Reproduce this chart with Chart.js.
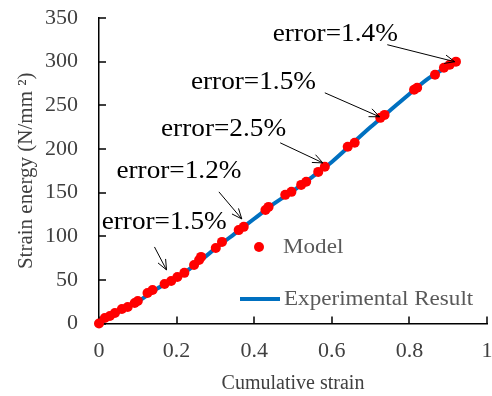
<!DOCTYPE html>
<html>
<head>
<meta charset="utf-8">
<script src="https://cdn.jsdelivr.net/npm/chart.js@4/dist/chart.umd.min.js"></script>
<style>
  html, body { margin: 0; padding: 0; background: #fff; }
</style>
</head>
<body>
<canvas id="chart" width="492" height="396"></canvas>
<script>
// model predictions (cumulative strain, strain energy)
const modelX = [0, 0.015, 0.028, 0.041, 0.059, 0.074, 0.092, 0.1, 0.125, 0.138, 0.169, 0.186,
  0.202, 0.22, 0.245, 0.258, 0.263, 0.301, 0.317, 0.36, 0.373, 0.429, 0.437, 0.48, 0.496,
  0.521, 0.534, 0.565, 0.582, 0.641, 0.659, 0.725, 0.736, 0.812, 0.82, 0.866, 0.889, 0.904, 0.92];
const modelY = [0, 6.3, 8.6, 12, 16.6, 19, 23.5, 25.8, 35, 38.4, 45.3, 48.7,
  53.3, 58, 67, 72.8, 76.3, 86.6, 93.5, 107, 110.7, 130, 133.6, 147.4, 150.8,
  158.8, 162.3, 173.7, 179.5, 202.4, 207, 235.6, 239, 267.8, 270, 285, 293, 296.4, 300];

// experimental curve
const expX = [0, 0.05, 0.1, 0.15, 0.2, 0.25, 0.3, 0.35, 0.4, 0.45, 0.5, 0.55, 0.6, 0.65, 0.7, 0.75, 0.8, 0.85, 0.92];
const expY = [0, 13, 25, 40, 52, 68, 86, 103, 120, 137, 152, 168, 185, 205, 225, 244, 263, 281, 300];

// error callouts: label, label centre, arrow start, arrow tip (data units)
const errLabels = ['error=1.5%', 'error=1.2%', 'error=2.5%', 'error=1.5%', 'error=1.4%'];
const errTextX = [0.168, 0.206, 0.321, 0.398, 0.609];
const errTextY = [116, 173.7, 222, 275.8, 330.8];
const arrowFromX = [0.143, 0.309, 0.467, 0.582, 0.743];
const arrowFromY = [87.7, 150.8, 207, 264.3, 319.4];
const arrowToX = [0.174, 0.368, 0.577, 0.723, 0.917];
const arrowToY = [61.4, 119.8, 184, 236.8, 299.9];

const strainTicks = [0, 0.2, 0.4, 0.6, 0.8, 1];
const energyTicks = [0, 50, 100, 150, 200, 250, 300, 350];

const serif = '"Liberation Serif", "Times New Roman", serif';

const zip = (xs, ys) => xs.map((x, i) => ({ x: x, y: ys[i] }));

// text slightly widened, like the exported figure
function wideText(ctx, text, x, y, sx) {
  ctx.save();
  ctx.translate(x, y);
  ctx.scale(sx, 1);
  ctx.fillText(text, 0, 0);
  ctx.restore();
}

// short tick marks pointing into the plot
const innerTicks = {
  id: 'innerTicks',
  beforeDatasetsDraw(chart) {
    const { ctx, scales: { x, y }, chartArea: a } = chart;
    ctx.save();
    ctx.strokeStyle = '#000';
    ctx.lineWidth = 1.5;
    ctx.beginPath();
    strainTicks.forEach(v => {
      const px = Math.round(x.getPixelForValue(v));
      ctx.moveTo(px, a.bottom);
      ctx.lineTo(px, a.bottom - 7);
    });
    energyTicks.forEach(v => {
      const py = Math.round(y.getPixelForValue(v));
      ctx.moveTo(a.left, py);
      ctx.lineTo(a.left + 7, py);
    });
    ctx.stroke();
    ctx.restore();
  }
};

const callouts = {
  id: 'callouts',
  afterDatasetsDraw(chart) {
    const { ctx, scales: { x, y } } = chart;
    ctx.save();
    ctx.font = '25px ' + serif;
    ctx.fillStyle = '#000';
    ctx.textAlign = 'center';
    ctx.textBaseline = 'middle';
    errLabels.forEach((t, i) => {
      wideText(ctx, t, x.getPixelForValue(errTextX[i]), y.getPixelForValue(errTextY[i]), 1.09);
      const x0 = x.getPixelForValue(arrowFromX[i]), y0 = y.getPixelForValue(arrowFromY[i]);
      const x1 = x.getPixelForValue(arrowToX[i]), y1 = y.getPixelForValue(arrowToY[i]);
      const ang = Math.atan2(y1 - y0, x1 - x0);
      ctx.strokeStyle = '#000';
      ctx.lineWidth = 1;
      ctx.beginPath();
      ctx.moveTo(x0, y0);
      ctx.lineTo(x1, y1);
      [0.4, -0.4].forEach(d => {
        ctx.moveTo(x1, y1);
        ctx.lineTo(x1 - 11 * Math.cos(ang + d), y1 - 11 * Math.sin(ang + d));
      });
      ctx.stroke();
    });
    ctx.restore();
  }
};

// legend drawn inside the plot area
const innerLegend = {
  id: 'innerLegend',
  afterDraw(chart) {
    const { ctx, chartArea: a } = chart;
    const ds = chart.data.datasets;
    ctx.save();
    ctx.font = '22px ' + serif;
    ctx.textBaseline = 'middle';
    ctx.textAlign = 'left';
    // Model
    ctx.beginPath();
    ctx.arc(a.left + 160, a.top + 229, 5, 0, Math.PI * 2);
    ctx.fillStyle = ds[0].backgroundColor;
    ctx.fill();
    ctx.fillStyle = '#595959';
    wideText(ctx, ds[0].label, a.left + 184, a.top + 229, 1.05);
    // Experimental Result
    ctx.strokeStyle = ds[1].borderColor;
    ctx.lineWidth = 4;
    ctx.beginPath();
    ctx.moveTo(a.left + 141, a.top + 281);
    ctx.lineTo(a.left + 181, a.top + 281);
    ctx.stroke();
    wideText(ctx, ds[1].label, a.left + 185, a.top + 281, 1.05);
    ctx.restore();
  }
};

new Chart(document.getElementById('chart'), {
  type: 'scatter',
  data: {
    datasets: [{
      label: 'Model',
      data: zip(modelX, modelY),
      backgroundColor: '#FF0000',
      borderColor: '#FF0000',
      pointRadius: 5,
      borderWidth: 0,
      clip: false
    }, {
      type: 'line',
      label: 'Experimental Result',
      data: zip(expX, expY),
      borderColor: '#0070C0',
      borderWidth: 4,
      pointRadius: 0,
      tension: 0.3,
      fill: false
    }]
  },
  options: {
    responsive: false,
    animation: false,
    layout: { padding: { left: 0, top: 18, right: -2, bottom: 0 } },
    plugins: { legend: { display: false }, tooltip: { enabled: false } },
    scales: {
      x: {
        type: 'linear', min: 0, max: 1,
        afterBuildTicks: s => { s.ticks = strainTicks.map(v => ({ value: v })); },
        afterFit: s => { s.height = 72.5; s.paddingLeft = 0; s.paddingRight = 0; },
        grid: { display: false, drawTicks: false },
        border: { color: '#000', width: 1.5 },
        ticks: { padding: 15, color: '#404040', font: { family: serif, size: 22 },
          callback: v => String(+v.toFixed(1)) },
        title: { display: true, text: 'Cumulative strain', color: '#404040',
          font: { family: serif, size: 20 }, padding: { top: 0, bottom: 0 } }
      },
      y: {
        min: 0, max: 350,
        afterBuildTicks: s => { s.ticks = energyTicks.map(v => ({ value: v })); },
        afterFit: s => { s.width = 99; s.paddingTop = 0; s.paddingBottom = 0; },
        grid: { display: false, drawTicks: false },
        border: { color: '#000', width: 1.5 },
        ticks: { padding: 21, color: '#404040', font: { family: serif, size: 22 } },
        title: { display: true, text: 'Strain energy (N/mm ²)', color: '#404040',
          font: { family: serif, size: 21 }, padding: { top: 14, bottom: 0 } }
      }
    }
  },
  plugins: [innerTicks, callouts, innerLegend]
});
</script>
</body>
</html>
